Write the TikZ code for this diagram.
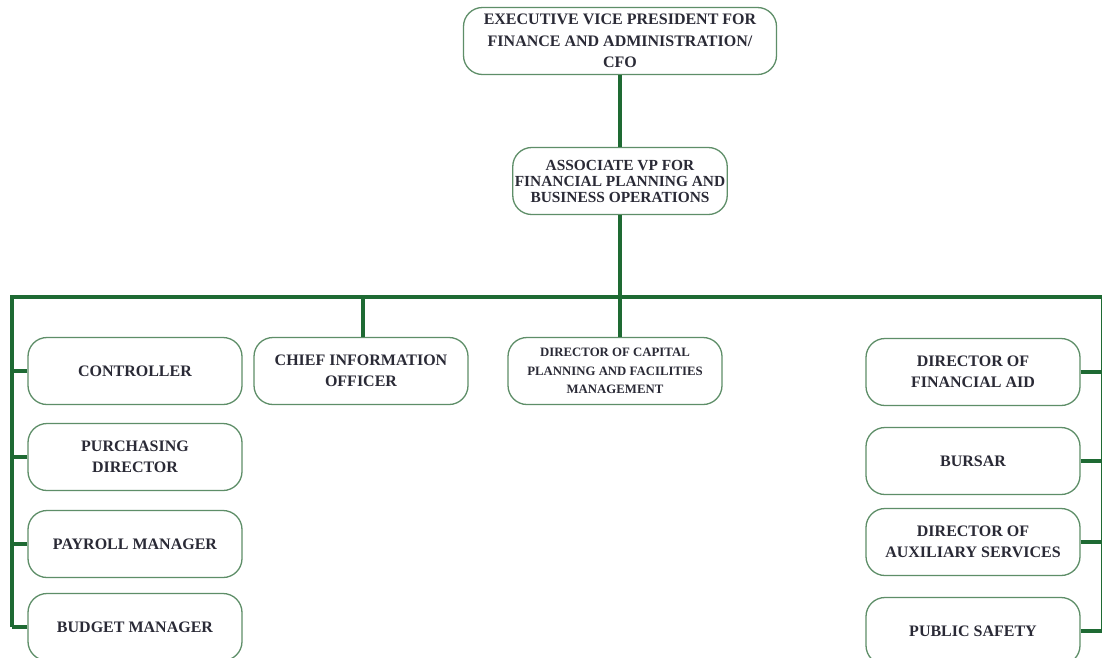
\documentclass[tikz,border=0pt]{standalone}
\usepackage{fontspec}
\setmainfont{Liberation Serif}
\usetikzlibrary{calc}

\definecolor{linegreen}{HTML}{1E6A33}
\definecolor{boxgreen}{HTML}{5E8E68}
\definecolor{inktext}{HTML}{2A2A36}

\tikzset{
    post/.style={draw=boxgreen, line width=1.3pt, rounded corners=19pt, fill=white,
        minimum width=214pt, minimum height=67pt, align=center, text=inktext,
        font=\bfseries\fontsize{16}{21.5}\selectfont, inner sep=2pt},
    link/.style={draw=linegreen, line width=4pt}
}

\begin{document}
\begin{tikzpicture}[x=1pt, y=-1pt]
            \clip (0, 0) rectangle (1102, 657);
            \fill[white] (0, 0) rectangle (1102, 657);
            % top of the chart
            \node[post, minimum width=313pt, text depth=-4pt] (evp) at (620, 41) {EXECUTIVE VICE PRESIDENT FOR\\FINANCE AND ADMINISTRATION/\\CFO};
            \node[post, minimum width=213pt, font=\bfseries\fontsize{15.4}{16}\selectfont] (avp) at (620, 181) {ASSOCIATE VP FOR\\FINANCIAL PLANNING AND\\BUSINESS OPERATIONS};
            \coordinate (busL) at (12, 297);
            \coordinate (busM) at (620, 297);
            \coordinate (busR) at (1103, 297);
            \draw[link] (evp) -- (avp);
            \draw[link] (avp) -- (busM);
            \draw[link] ($(busL) + (-2, 0)$) -- ($(busR) + (2, 0)$);
            % middle row
            \node[post] (cio) at (361, 371) {CHIEF INFORMATION\\OFFICER};
            \node[post, font=\bfseries\fontsize{12.8}{18.5}\selectfont, text depth=-6pt] (cap) at (615, 371) {DIRECTOR OF CAPITAL\\PLANNING AND FACILITIES\\MANAGEMENT};
            \draw[link] (cio.north -| 363, 0) -- (busL -| 363, 0);
            \draw[link] (cap.north -| busM) -- (busM);
            % left column
            \foreach \n/\y/\t in {ctrl/371/CONTROLLER, purch/457/{PURCHASING\\DIRECTOR}, pay/544/PAYROLL MANAGER, budg/627/BUDGET MANAGER} {
                \node[post] (\n) at (135, \y) {\t};
                \draw[link] (\n.west) -- (\n.west -| busL);
            }
            \draw[link] (busL) -- (budg.west -| busL);
            % right column
            \foreach \n/\y/\t in {aid/372/{DIRECTOR OF\\FINANCIAL AID}, bursar/461/BURSAR, aux/542/{DIRECTOR OF\\AUXILIARY SERVICES}, safety/631/PUBLIC SAFETY} {
                \node[post] (\n) at (973, \y) {\t};
                \draw[link] (\n.east) -- (\n.east -| busR);
            }
            \draw[link] (busR) -- ($(safety.east -| busR) + (0, 2)$);
        \end{tikzpicture}
\end{document}
